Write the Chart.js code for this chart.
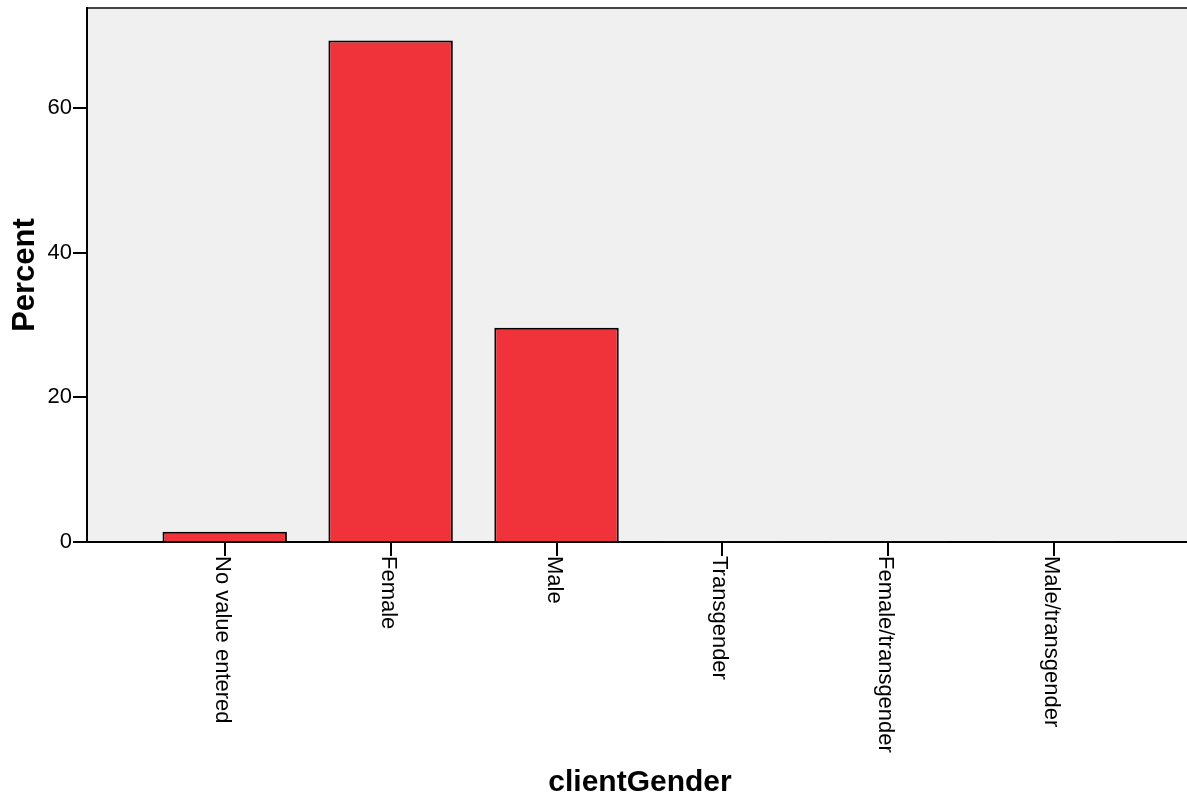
<!DOCTYPE html>
<html>
<head>
<meta charset="utf-8">
<script src="https://cdn.jsdelivr.net/npm/chart.js@4/dist/chart.umd.min.js"></script>
<style>
  html, body { margin: 0; padding: 0; background: #fff; }
  #wrap { width: 1187px; height: 798px; position: relative; }
</style>
</head>
<body>
<div id="wrap"><canvas id="barChart" width="1187" height="798"></canvas></div>
<script>
const categories = ['No value entered', 'Female', 'Male', 'Transgender', 'Female/transgender', 'Male/transgender'];
const percentValues = [1.4, 69.3, 29.6, 0.1, 0.1, 0.1];
const yTickValues = [0, 20, 40, 60];

const FONT = "Arial, 'Liberation Sans', sans-serif";

// plot background, frame, rotated category labels, axis titles
const spssLook = {
    id: 'spssLook',
    beforeDraw(chart) {
        const { ctx, chartArea } = chart;
        ctx.save();
        ctx.fillStyle = '#f0f0f0';
        ctx.fillRect(chartArea.left, chartArea.top, chartArea.right - chartArea.left, chartArea.bottom - chartArea.top);
        ctx.strokeStyle = '#444';
        ctx.lineWidth = 2;
        ctx.beginPath();
        ctx.moveTo(chartArea.left, chartArea.top);
        ctx.lineTo(chartArea.right, chartArea.top);
        ctx.stroke();
        ctx.restore();
    },
    afterDraw(chart) {
        const { ctx, chartArea } = chart;
        const xScale = chart.scales.x;
        ctx.save();
        ctx.strokeStyle = '#000';
        ctx.fillStyle = '#000';
        ctx.lineWidth = 2;
        ctx.font = '22px ' + FONT;
        categories.forEach((label, i) => {
            const px = Math.round(xScale.getPixelForValue(i));
            ctx.beginPath();
            ctx.moveTo(px, chartArea.bottom);
            ctx.lineTo(px, chartArea.bottom + 14);
            ctx.stroke();
            ctx.save();
            ctx.translate(px - 3, chartArea.bottom + 14);
            ctx.rotate(Math.PI / 2);
            ctx.textAlign = 'left';
            ctx.textBaseline = 'middle';
            ctx.fillText(label, 0, 0);
            ctx.restore();
        });

        ctx.font = 'bold 30px ' + FONT;
        ctx.textAlign = 'center';
        ctx.textBaseline = 'middle';
        ctx.fillText('clientGender', (chartArea.left + chartArea.right) / 2 + 3, 783);
        ctx.save();
        ctx.font = 'bold 31px ' + FONT;
        ctx.translate(25, (chartArea.top + chartArea.bottom) / 2);
        ctx.rotate(-Math.PI / 2);
        ctx.fillText('Percent', 0, 0);
        ctx.restore();
        ctx.restore();
    }
};

new Chart(document.getElementById('barChart').getContext('2d'), {
    type: 'bar',
    data: {
        datasets: [{
            label: 'Percent',
            data: percentValues.map((v, i) => ({ x: i, y: v })),
            backgroundColor: '#f0323a',
            borderColor: '#000',
            borderWidth: 2,
            categoryPercentage: 0.75,
            barPercentage: 1
        }]
    },
    options: {
        responsive: false,
        animation: false,
        layout: { padding: { top: 8, right: 0, left: 0, bottom: 0 } },
        plugins: { legend: { display: false }, tooltip: { enabled: false } },
        scales: {
            x: {
                type: 'linear',
                min: -0.83,
                max: 5.80,
                offset: false,
                afterBuildTicks(scale) { scale.ticks = categories.map((c, i) => ({ value: i })); },
                grid: { display: false },
                ticks: { display: false },
                border: { display: true, color: '#000', width: 2 },
                afterFit(scale) {
                    scale.height = 256;
                    scale.paddingLeft = 0;
                    scale.paddingRight = 0;
                }
            },
            y: {
                min: 0,
                max: 73.8,
                afterBuildTicks(scale) { scale.ticks = yTickValues.map(v => ({ value: v })); },
                ticks: {
                    color: '#000',
                    font: { family: FONT, size: 22 },
                    padding: 1
                },
                grid: { drawOnChartArea: false, drawTicks: true, tickLength: 14, color: '#000', lineWidth: 2 },
                border: { display: true, color: '#000', width: 2 },
                afterFit(scale) {
                    scale.width = 87;
                    scale.paddingTop = 0;
                    scale.paddingBottom = 0;
                }
            }
        }
    },
    plugins: [spssLook]
});
</script>
</body>
</html>
